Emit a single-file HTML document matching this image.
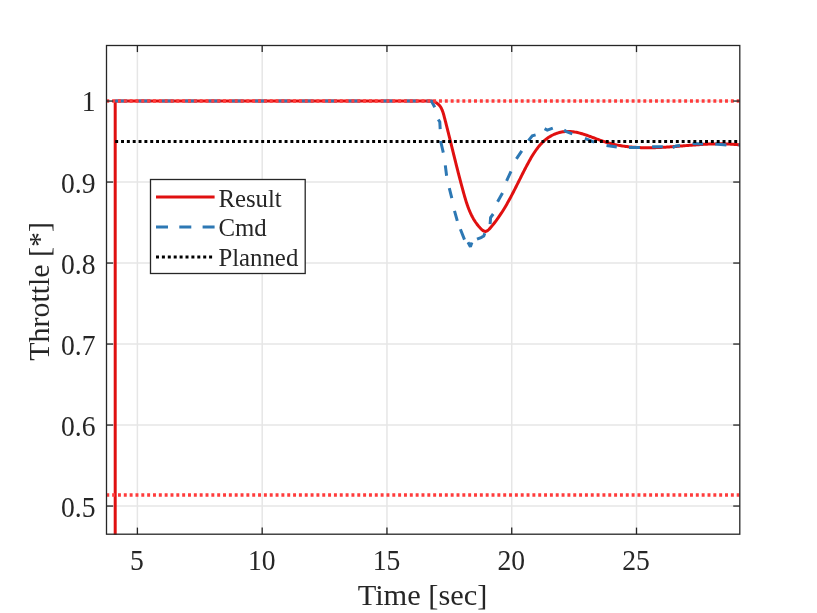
<!DOCTYPE html>
<html><head><meta charset="utf-8"><style>
html,body{margin:0;padding:0;background:#fff;width:817px;height:613px;overflow:hidden}
svg{position:absolute;left:0;top:0;display:block;will-change:transform}
text{font-family:"Liberation Serif",serif;fill:#262626}
</style></head><body>
<svg width="817" height="613" viewBox="0 0 817 613">
<defs><clipPath id="ax"><rect x="106.5" y="45.5" width="633.3" height="489.20000000000005"/></clipPath></defs>
<rect x="0" y="0" width="817" height="613" fill="#fff"/>
<g stroke="#e6e6e6" stroke-width="1.5"><line x1="137.40" y1="45.5" x2="137.40" y2="534.2"/><line x1="262.18" y1="45.5" x2="262.18" y2="534.2"/><line x1="386.95" y1="45.5" x2="386.95" y2="534.2"/><line x1="511.73" y1="45.5" x2="511.73" y2="534.2"/><line x1="636.50" y1="45.5" x2="636.50" y2="534.2"/><line x1="106.5" y1="506.05" x2="739.8" y2="506.05"/><line x1="106.5" y1="425.05" x2="739.8" y2="425.05"/><line x1="106.5" y1="344.05" x2="739.8" y2="344.05"/><line x1="106.5" y1="263.05" x2="739.8" y2="263.05"/><line x1="106.5" y1="182.05" x2="739.8" y2="182.05"/><line x1="106.5" y1="101.05" x2="739.8" y2="101.05"/></g>
<g clip-path="url(#ax)" fill="none" stroke-linejoin="round">
<path d="M115.2,536.2 L115.2,101 L420,101 L419.99,101.05 L421.10,101.00 L422.24,101.00 L423.42,101.00 L424.62,101.00 L425.83,101.00 L427.06,101.00 L428.28,101.00 L429.50,101.00 L430.70,101.00 L431.88,101.00 L433.03,101.26 L434.15,101.69 L435.22,102.19 L436.24,102.75 L437.20,103.38 L438.09,104.08 L438.91,104.85 L439.66,105.68 L440.32,106.57 L440.92,107.52 L441.46,108.52 L441.95,109.56 L442.39,110.64 L442.79,111.75 L443.16,112.88 L443.50,114.03 L443.83,115.20 L444.14,116.37 L444.45,117.55 L444.75,118.72 L445.06,119.90 L445.36,121.07 L445.66,122.24 L445.96,123.40 L446.26,124.57 L446.55,125.74 L446.85,126.90 L447.14,128.06 L447.44,129.22 L447.73,130.38 L448.02,131.54 L448.31,132.70 L448.60,133.86 L448.89,135.01 L449.17,136.17 L449.46,137.32 L449.75,138.47 L450.03,139.63 L450.32,140.78 L450.60,141.93 L450.88,143.07 L451.17,144.22 L451.45,145.37 L451.73,146.52 L452.01,147.66 L452.30,148.81 L452.58,149.95 L452.86,151.10 L453.14,152.24 L453.42,153.38 L453.70,154.53 L453.99,155.67 L454.27,156.81 L454.55,157.95 L454.83,159.09 L455.12,160.23 L455.40,161.37 L455.68,162.51 L455.97,163.65 L456.25,164.79 L456.54,165.93 L456.83,167.07 L457.11,168.21 L457.40,169.35 L457.69,170.49 L457.98,171.62 L458.27,172.76 L458.56,173.90 L458.86,175.04 L459.15,176.18 L459.45,177.32 L459.74,178.46 L460.04,179.60 L460.34,180.74 L460.64,181.88 L460.94,183.02 L461.25,184.16 L461.55,185.30 L461.86,186.44 L462.17,187.59 L462.48,188.73 L462.79,189.87 L463.11,191.02 L463.42,192.16 L463.74,193.31 L464.06,194.45 L464.39,195.60 L464.71,196.74 L465.05,197.89 L465.39,199.03 L465.73,200.18 L466.08,201.32 L466.44,202.45 L466.82,203.59 L467.20,204.72 L467.59,205.85 L467.99,206.97 L468.41,208.09 L468.84,209.20 L469.29,210.31 L469.75,211.41 L470.23,212.50 L470.73,213.59 L471.24,214.67 L471.78,215.74 L472.33,216.81 L472.91,217.86 L473.50,218.91 L474.13,219.95 L474.77,220.97 L475.44,221.99 L476.14,222.99 L476.86,223.99 L477.61,224.97 L478.38,225.94 L479.19,226.89 L480.03,227.84 L480.89,228.76 L481.79,229.62 L482.69,230.37 L483.60,230.95 L484.51,231.32 L485.41,231.43 L486.29,231.26 L487.16,230.85 L488.01,230.25 L488.85,229.50 L489.67,228.65 L490.48,227.73 L491.28,226.79 L492.07,225.84 L492.84,224.89 L493.60,223.94 L494.36,222.98 L495.10,222.02 L495.83,221.05 L496.54,220.08 L497.25,219.11 L497.95,218.13 L498.64,217.15 L499.32,216.17 L499.99,215.18 L500.65,214.19 L501.31,213.20 L501.95,212.20 L502.59,211.20 L503.22,210.20 L503.84,209.20 L504.45,208.19 L505.06,207.18 L505.66,206.17 L506.25,205.15 L506.84,204.13 L507.43,203.11 L508.00,202.09 L508.57,201.06 L509.14,200.03 L509.70,199.00 L510.26,197.97 L510.82,196.94 L511.37,195.90 L511.91,194.86 L512.46,193.82 L513.00,192.78 L513.54,191.74 L514.07,190.69 L514.60,189.65 L515.14,188.60 L515.67,187.55 L516.20,186.50 L516.72,185.45 L517.25,184.39 L517.78,183.34 L518.31,182.28 L518.83,181.22 L519.36,180.17 L519.89,179.11 L520.42,178.05 L520.95,176.99 L521.48,175.93 L522.01,174.86 L522.55,173.80 L523.09,172.74 L523.63,171.68 L524.17,170.61 L524.72,169.55 L525.27,168.49 L525.83,167.42 L526.39,166.36 L526.95,165.29 L527.52,164.23 L528.09,163.17 L528.67,162.10 L529.25,161.04 L529.85,159.98 L530.44,158.92 L531.05,157.87 L531.66,156.83 L532.29,155.79 L532.92,154.76 L533.57,153.73 L534.22,152.72 L534.89,151.72 L535.57,150.72 L536.26,149.75 L536.97,148.78 L537.69,147.83 L538.43,146.90 L539.18,145.98 L539.95,145.09 L540.73,144.21 L541.54,143.35 L542.36,142.51 L543.20,141.69 L544.06,140.90 L544.94,140.13 L545.85,139.39 L546.77,138.68 L547.72,137.99 L548.69,137.33 L549.68,136.70 L550.69,136.10 L551.73,135.53 L552.78,134.99 L553.85,134.49 L554.94,134.02 L556.03,133.59 L557.14,133.20 L558.26,132.84 L559.39,132.52 L560.52,132.24 L561.65,132.00 L562.79,131.80 L563.93,131.64 L565.07,131.52 L566.21,131.45 L567.34,131.41 L568.48,131.41 L569.62,131.45 L570.75,131.52 L571.89,131.63 L573.03,131.76 L574.16,131.93 L575.30,132.12 L576.43,132.34 L577.57,132.58 L578.71,132.85 L579.84,133.14 L580.98,133.45 L582.12,133.78 L583.25,134.12 L584.39,134.48 L585.53,134.86 L586.66,135.24 L587.80,135.64 L588.94,136.05 L590.08,136.47 L591.22,136.89 L592.36,137.31 L593.50,137.74 L594.64,138.17 L595.78,138.60 L596.92,139.03 L598.07,139.46 L599.21,139.88 L600.35,140.30 L601.50,140.70 L602.65,141.10 L603.79,141.49 L604.94,141.86 L606.09,142.23 L607.24,142.57 L608.39,142.91 L609.54,143.23 L610.70,143.54 L611.85,143.83 L613.01,144.12 L614.16,144.39 L615.32,144.64 L616.48,144.89 L617.63,145.12 L618.79,145.35 L619.95,145.56 L621.11,145.76 L622.28,145.95 L623.44,146.13 L624.60,146.30 L625.77,146.45 L626.93,146.60 L628.10,146.74 L629.26,146.87 L630.43,146.99 L631.60,147.09 L632.77,147.19 L633.94,147.29 L635.11,147.37 L636.28,147.44 L637.45,147.51 L638.62,147.57 L639.79,147.62 L640.96,147.66 L642.14,147.69 L643.31,147.72 L644.49,147.74 L645.66,147.75 L646.84,147.76 L648.01,147.76 L649.19,147.76 L650.37,147.74 L651.54,147.73 L652.72,147.70 L653.90,147.68 L655.08,147.64 L656.26,147.60 L657.44,147.56 L658.62,147.51 L659.80,147.46 L660.98,147.40 L662.16,147.34 L663.34,147.28 L664.53,147.21 L665.71,147.14 L666.89,147.07 L668.07,146.99 L669.26,146.91 L670.44,146.83 L671.62,146.74 L672.81,146.66 L673.99,146.57 L675.18,146.48 L676.36,146.39 L677.54,146.29 L678.73,146.20 L679.91,146.10 L681.10,146.01 L682.29,145.91 L683.47,145.82 L684.66,145.72 L685.84,145.62 L687.03,145.53 L688.21,145.43 L689.40,145.34 L690.59,145.25 L691.77,145.15 L692.96,145.06 L694.14,144.97 L695.33,144.89 L696.51,144.80 L697.70,144.72 L698.89,144.64 L700.07,144.56 L701.26,144.49 L702.44,144.42 L703.63,144.35 L704.81,144.28 L706.00,144.22 L707.18,144.16 L708.37,144.11 L709.55,144.06 L710.74,144.02 L711.92,143.98 L713.11,143.94 L714.29,143.91 L715.47,143.89 L716.66,143.87 L717.84,143.85 L719.02,143.85 L720.20,143.85 L721.39,143.85 L722.57,143.86 L723.75,143.88 L724.93,143.91 L726.11,143.94 L727.29,143.98 L728.47,144.03 L729.65,144.08 L730.83,144.15 L732.01,144.22 L733.19,144.30 L734.37,144.39 L735.54,144.48 L736.72,144.59 L737.90,144.71 L739.07,144.83 L740.25,144.97 L741.42,145.11 L742.60,145.27 L743.77,145.43 L744.94,145.61" stroke="#e01010" stroke-width="3"/>
<line x1="115.2" y1="101" x2="372" y2="101" stroke="#2d78b4" stroke-width="3" stroke-dasharray="12 11.3"/><path d="M426.50,101.00 L431.50,101.20 L434.80,107.20 M438.30,119.40 L439.80,122.00 L440.20,129.20 M440.60,141.00 L443.30,152.70 M445.30,165.40 L446.60,175.70 M449.30,188.20 L451.80,198.20 M454.50,210.90 L457.30,220.90 M460.40,229.30 L464.50,239.60 M468.00,242.30 L470.40,246.70 L471.90,242.50 M477.00,239.20 L481.00,237.60 L483.80,236.00 L484.80,233.30 M490.10,224.20 L490.60,217.60 L493.20,214.00 M497.60,201.70 L502.50,192.90 M506.60,180.80 L511.00,171.30 M516.40,158.80 L521.80,150.80 M528.40,140.60 L532.30,135.80 L535.60,134.90 M544.60,128.60 L547.30,130.20 L552.80,128.10 M564.10,130.10 L565.90,131.30 L572.30,133.80 M584.90,138.40 L594.20,142.20 M606.50,145.40 L616.80,146.90 M628.90,147.60 L639.90,147.60 M652.10,146.70 L662.80,146.70 M672.70,147.80 L676.00,146.00 L680.00,145.60 M692.60,143.60 L703.10,144.10 M715.30,144.10 L726.40,145.10 M738.50,145.10 L745.00,145.10 M381.00,101.00 L393.00,101.00 M405.00,101.00 L417.00,101.00" stroke="#2d78b4" stroke-width="3" stroke-linejoin="miter" stroke-miterlimit="2"/>
<line x1="115.2" y1="141.55" x2="739.8" y2="141.55" stroke="#000" stroke-width="3" stroke-dasharray="2.95 2.89"/>
<line x1="106.3" y1="101.05" x2="739.8" y2="101.05" stroke="#ff3c3c" stroke-width="3.4" stroke-dasharray="2.95 2.887"/>
<line x1="106.3" y1="495.0" x2="739.8" y2="495.0" stroke="#ff3c3c" stroke-width="3.4" stroke-dasharray="2.95 2.887"/>
</g>
<g stroke="#262626" stroke-width="1.3"><line x1="137.40" y1="534.2" x2="137.40" y2="527.6"/><line x1="137.40" y1="45.5" x2="137.40" y2="52.1"/><line x1="262.18" y1="534.2" x2="262.18" y2="527.6"/><line x1="262.18" y1="45.5" x2="262.18" y2="52.1"/><line x1="386.95" y1="534.2" x2="386.95" y2="527.6"/><line x1="386.95" y1="45.5" x2="386.95" y2="52.1"/><line x1="511.73" y1="534.2" x2="511.73" y2="527.6"/><line x1="511.73" y1="45.5" x2="511.73" y2="52.1"/><line x1="636.50" y1="534.2" x2="636.50" y2="527.6"/><line x1="636.50" y1="45.5" x2="636.50" y2="52.1"/><line x1="106.5" y1="506.05" x2="113.1" y2="506.05"/><line x1="739.8" y1="506.05" x2="733.1999999999999" y2="506.05"/><line x1="106.5" y1="425.05" x2="113.1" y2="425.05"/><line x1="739.8" y1="425.05" x2="733.1999999999999" y2="425.05"/><line x1="106.5" y1="344.05" x2="113.1" y2="344.05"/><line x1="739.8" y1="344.05" x2="733.1999999999999" y2="344.05"/><line x1="106.5" y1="263.05" x2="113.1" y2="263.05"/><line x1="739.8" y1="263.05" x2="733.1999999999999" y2="263.05"/><line x1="106.5" y1="182.05" x2="113.1" y2="182.05"/><line x1="739.8" y1="182.05" x2="733.1999999999999" y2="182.05"/><line x1="106.5" y1="101.05" x2="113.1" y2="101.05"/><line x1="739.8" y1="101.05" x2="733.1999999999999" y2="101.05"/></g>
<rect x="106.5" y="45.5" width="633.3" height="488.70000000000005" fill="none" stroke="#262626" stroke-width="1.3"/>
<g font-size="27.6"><text transform="translate(136.90,570) scale(1,1.05)" text-anchor="middle">5</text><text transform="translate(261.68,570) scale(1,1.05)" text-anchor="middle">10</text><text transform="translate(386.45,570) scale(1,1.05)" text-anchor="middle">15</text><text transform="translate(511.23,570) scale(1,1.05)" text-anchor="middle">20</text><text transform="translate(636.00,570) scale(1,1.05)" text-anchor="middle">25</text><text transform="translate(95.5,516.95) scale(1,1.05)" text-anchor="end">0.5</text><text transform="translate(95.5,435.95) scale(1,1.05)" text-anchor="end">0.6</text><text transform="translate(95.5,354.95) scale(1,1.05)" text-anchor="end">0.7</text><text transform="translate(95.5,273.95) scale(1,1.05)" text-anchor="end">0.8</text><text transform="translate(95.5,192.95) scale(1,1.05)" text-anchor="end">0.9</text><text transform="translate(95.5,110.95) scale(1,1.05)" text-anchor="end">1</text></g>
<text x="422.5" y="605.3" text-anchor="middle" font-size="30.4">Time [sec]</text>
<text transform="translate(48.9,291.4) rotate(-90)" text-anchor="middle" font-size="29.95">Throttle [*]</text>
<g>
<rect x="150.5" y="179.5" width="154.7" height="94" fill="#fff" stroke="#262626" stroke-width="1.3"/>
<line x1="156" y1="197" x2="214.6" y2="197" stroke="#e01010" stroke-width="3"/>
<line x1="156" y1="227" x2="214.6" y2="227" stroke="#2d78b4" stroke-width="3" stroke-dasharray="12 11.3"/>
<line x1="156" y1="257" x2="214.6" y2="257" stroke="#000" stroke-width="3" stroke-dasharray="3 2.9"/>
<g font-size="24.8"><text x="218.4" y="206.5">Result</text><text x="218.4" y="236.3">Cmd</text><text x="218.4" y="266">Planned</text></g>
</g>
</svg>
</body></html>
